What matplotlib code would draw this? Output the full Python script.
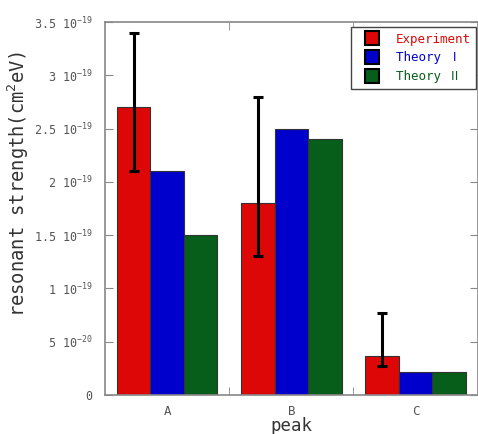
#!/usr/bin/env python3

import numpy as np
import matplotlib
matplotlib.use("Agg")
import matplotlib.pyplot as plt
from matplotlib.ticker import FixedLocator

# ----------------------------
# Data (units of 1e-19 cm^2 eV)
# ----------------------------
peaks = ["A", "B", "C"]
series_names = ["Experiment", "Theory Ⅰ", "Theory Ⅱ"]
experiment = [2.70, 1.80, 0.37]
theory1 = [2.10, 2.50, 0.22]
theory2 = [1.50, 2.40, 0.22]
exp_low = [2.10, 1.30, 0.27]
exp_high = [3.40, 2.80, 0.77]

ytick_vals = [0, 0.5, 1.0, 1.5, 2.0, 2.5, 3.0, 3.5]
ytick_labels = ["0", "5 10$^{-20}$", "1 10$^{-19}$", "1.5 10$^{-19}$",
                "2 10$^{-19}$", "2.5 10$^{-19}$", "3 10$^{-19}$", "3.5 10$^{-19}$"]

COLORS = ["#DD0707", "#0000CC", "#075E1A"]
FONT = ["DejaVu Sans Mono", "Noto Sans CJK JP", "DejaVu Sans"]

plt.rcParams["font.family"] = FONT
plt.rcParams["mathtext.fontset"] = "custom"
plt.rcParams["mathtext.rm"] = "DejaVu Sans Mono"
plt.rcParams["mathtext.it"] = "DejaVu Sans Mono"

# ----------------------------
# Plot
# ----------------------------
fig = plt.figure(figsize=(4.78, 4.34), dpi=100)
ax = fig.add_axes([0.2197, 0.0899, 0.7793, 0.8594])

x = np.arange(len(peaks))
width = 0.27
all_vals = [experiment, theory1, theory2]
for i, (vals, name) in enumerate(zip(all_vals, series_names)):
    ax.bar(x + (i - 1) * width, vals, width, color=COLORS[i],
           edgecolor="#333333", linewidth=0.8, label=name, zorder=2)

exp = np.array(experiment)
yerr = [exp - np.array(exp_low), np.array(exp_high) - exp]
ax.errorbar(x - width, exp, yerr=yerr, fmt="none", ecolor="black",
            elinewidth=2.2, capsize=3.5, capthick=2.2, zorder=3)

ax.set_xlim(-0.5, 2.5)
ax.set_ylim(0, 3.5)

ax.set_xticks(x)
ax.set_xticklabels(peaks)
ax.xaxis.set_minor_locator(FixedLocator([0.5, 1.5]))
ax.set_yticks(ytick_vals)
ax.set_yticklabels(ytick_labels)

ax.tick_params(axis="x", which="major", length=0, pad=7, labelsize=9, labelcolor="#555555")
ax.tick_params(axis="x", which="minor", direction="in", length=6, color="#888888",
               top=True, bottom=True)
ax.tick_params(axis="y", direction="in", length=6, color="#888888", right=True,
               labelsize=8.5, labelcolor="#555555", pad=9)

for sp in ax.spines.values():
    sp.set_color("#888888")
    sp.set_linewidth(1.2)

ax.set_ylabel("resonant strength(cm$^2$eV)", fontsize=13.5, color="#333333")
ax.yaxis.set_label_coords(-0.20, 0.566)
ax.set_xlabel("peak", fontsize=12.5, color="#333333")
ax.xaxis.set_label_coords(0.5, -0.058)

handles = [plt.Line2D([], [], marker="s", linestyle="none", markersize=10,
                      markerfacecolor=c, markeredgecolor="black", markeredgewidth=1.5)
           for c in COLORS]
leg = ax.legend(handles, series_names, loc="upper right", bbox_to_anchor=(0.997, 0.986),
                fancybox=False, framealpha=1, edgecolor="#444444", fontsize=9,
                handlelength=2.4, handletextpad=0.7, borderpad=0.45, labelspacing=0.45,
                borderaxespad=0)
leg.get_frame().set_linewidth(1.0)
for t, c in zip(leg.get_texts(), COLORS):
    t.set_color(c)

fig.savefig("out.png", dpi=100)
